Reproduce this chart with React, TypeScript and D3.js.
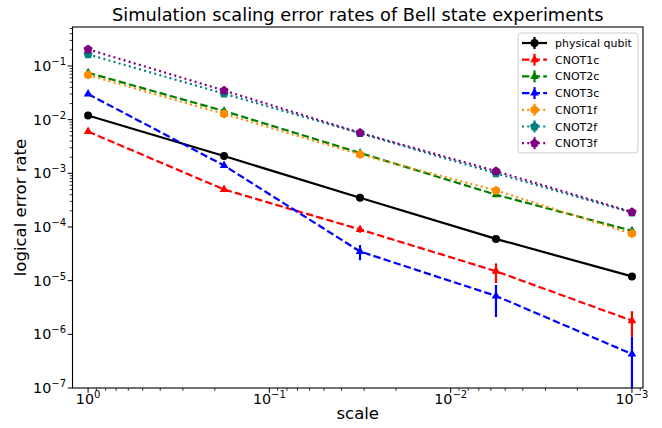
import React from "react";
import * as d3 from "d3";

const scales = [1, 0.1778, 0.03162, 0.005623, 0.001];
const seriesNames = ["physical qubit", "CNOT1c", "CNOT2c", "CNOT3c", "CNOT1f", "CNOT2f", "CNOT3f"];
const physical = [1.2e-2, 2.1e-3, 3.5e-4, 6.0e-5, 1.2e-5];
const physicalErr = [0, 0, 0, 0, 0];
const cnot1c = [6.0e-3, 5.0e-4, 9.0e-5, 1.5e-5, 1.8e-6];
const cnot1cErr = [0, 0, 1.2e-5, 6e-6, 9e-7];
const cnot2c = [7.5e-2, 1.45e-2, 2.4e-3, 4.0e-4, 8.5e-5];
const cnot2cErr = [0, 0, 0, 0, 0];
const cnot3c = [3.0e-2, 1.4e-3, 3.5e-5, 5.2e-6, 4.3e-7];
const cnot3cErr = [0, 1e-4, 1.1e-5, 3.1e-6, 4.7e-7];
const cnot1f = [6.8e-2, 1.28e-2, 2.25e-3, 4.8e-4, 7.5e-5];
const cnot1fErr = [0, 0, 0, 0, 0];
const cnot2f = [1.65e-1, 3.05e-2, 5.6e-3, 1.0e-3, 1.85e-4];
const cnot2fErr = [0, 0, 0, 0, 0];
const cnot3f = [2.05e-1, 3.5e-2, 5.7e-3, 1.1e-3, 1.9e-4];
const cnot3fErr = [0, 0, 0, 0, 0];
const xTickExps = [0, -1, -2, -3];
const yTickExps = [-1, -2, -3, -4, -5, -6, -7];

const colors = ["#000000", "#ff0000", "#008000", "#0000ff", "#ff8c00", "#008080", "#800080"];
const markers = ["circle", "triangle", "triangle", "triangle", "hexagon", "pentagon", "pentagon"];
const styles = ["solid", "dashed", "dashed", "dashed", "dotted", "dotted", "dotted"];
const values = [physical, cnot1c, cnot2c, cnot3c, cnot1f, cnot2f, cnot3f];
const errs = [physicalErr, cnot1cErr, cnot2cErr, cnot3cErr, cnot1fErr, cnot2fErr, cnot3fErr];

const W = 662, H = 428;
const L = 72.5, R = 643, T = 27, B = 388;
const FONT = "DejaVu Sans, sans-serif";

function polyPath(n: number, r: number, rot: number) {
  const pts: string[] = [];
  for (let i = 0; i < n; i++) {
    const a = rot + (i * 2 * Math.PI) / n;
    pts.push(`${(r * Math.cos(a)).toFixed(2)},${(r * Math.sin(a)).toFixed(2)}`);
  }
  return "M" + pts.join("L") + "Z";
}

function Marker({ kind, x, y, color }: { kind: string; x: number; y: number; color: string }) {
  if (kind === "circle") return <circle cx={x} cy={y} r={4} fill={color} />;
  let d = "";
  if (kind === "triangle") d = polyPath(3, 5, -Math.PI / 2);
  if (kind === "hexagon") d = polyPath(6, 4.6, -Math.PI / 2);
  if (kind === "pentagon") d = polyPath(5, 4.8, -Math.PI / 2);
  return <path d={d} transform={`translate(${x},${y})`} fill={color} />;
}

function dashFor(style: string) {
  if (style === "dashed") return "7.4,3.2";
  if (style === "dotted") return "2,3.3";
  return undefined;
}

function Pow({ x, y, exp, anchor }: { x: number; y: number; exp: number; anchor: string }) {
  const s = exp < 0 ? "\u2212" + Math.abs(exp) : String(exp);
  return (
    <text x={x} y={y} textAnchor={anchor} fontFamily={FONT} fontSize={14.3} fill="#000">
      10<tspan dy={-6} fontSize={10}>{s}</tspan>
    </text>
  );
}

export default function App() {
  const x = d3.scaleLog().domain([Math.pow(10, 0.086), Math.pow(10, -3.061)]).range([L, R]);
  const y = d3.scaleLog().domain([1e-7, Math.pow(10, -0.273)]).range([B, T]);

  const xMinor: number[] = [];
  const yMinor: number[] = [];
  for (let e = -4; e <= 1; e++) {
    for (let m = 2; m <= 9; m++) {
      const v = m * Math.pow(10, e);
      const px = x(v);
      if (px >= L && px <= R) xMinor.push(v);
      const py = y(v);
      if (py >= T && py <= B) yMinor.push(v);
    }
  }

  const line = d3
    .line<[number, number]>()
    .x((d) => x(d[0]))
    .y((d) => y(d[1]));

  const legX = 518, legY = 33, legW = 120, legRow = 16.7;

  return (
    <svg width={W} height={H} style={{ display: "block", position: "absolute", left: 0, top: 0 }}>
      <rect x={0} y={0} width={W} height={H} fill="#fff" />
      <defs>
        <clipPath id="plotclip">
          <rect x={L} y={T} width={R - L} height={B - T} />
        </clipPath>
      </defs>
      <g clipPath="url(#plotclip)">
        {values.map((vals, si) => {
          const pts = scales.map((s, i) => [s, vals[i]] as [number, number]);
          return (
            <g key={si}>
              {scales.map((s, i) => {
                const e = errs[si][i];
                if (!e) return null;
                const lo = vals[i] - e;
                const yLo = lo > 0 ? y(lo) : B + 20;
                return (
                  <line key={i} x1={x(s)} x2={x(s)} y1={y(vals[i] + e)} y2={yLo} stroke={colors[si]} strokeWidth={2.2} />
                );
              })}
              <path d={line(pts) || ""} fill="none" stroke={colors[si]} strokeWidth={2.2} strokeDasharray={dashFor(styles[si])} />
              {scales.map((s, i) => (
                <Marker key={i} kind={markers[si]} x={x(s)} y={y(vals[i])} color={colors[si]} />
              ))}
            </g>
          );
        })}
      </g>
      {/* ticks */}
      {xTickExps.map((e) => {
        const px = x(Math.pow(10, e));
        return (
          <g key={"xt" + e}>
            <line x1={px} x2={px} y1={B} y2={B + 4.8} stroke="#000" strokeWidth={1} />
            <Pow x={px} y={404} exp={e} anchor="middle" />
          </g>
        );
      })}
      {xMinor.map((v, i) => (
        <line key={"xm" + i} x1={x(v)} x2={x(v)} y1={B} y2={B + 2.8} stroke="#000" strokeWidth={0.8} />
      ))}
      {yTickExps.map((e) => {
        const py = y(Math.pow(10, e));
        return (
          <g key={"yt" + e}>
            <line x1={L - 4.8} x2={L} y1={py} y2={py} stroke="#000" strokeWidth={1} />
            <Pow x={66} y={py + 5} exp={e} anchor="end" />
          </g>
        );
      })}
      {yMinor.map((v, i) => (
        <line key={"ym" + i} x1={L - 2.8} x2={L} y1={y(v)} y2={y(v)} stroke="#000" strokeWidth={0.8} />
      ))}
      <rect x={L} y={T} width={R - L} height={B - T} fill="none" stroke="#000" strokeWidth={1.1} />
      {/* labels */}
      <text x={(L + R) / 2} y={21} textAnchor="middle" fontFamily={FONT} fontSize={17.8} fill="#000">
        Simulation scaling error rates of Bell state experiments
      </text>
      <text x={(L + R) / 2} y={419} textAnchor="middle" fontFamily={FONT} fontSize={16.5} fill="#000">
        scale
      </text>
      <text transform={`translate(26,${(T + B) / 2}) rotate(-90)`} textAnchor="middle" fontFamily={FONT} fontSize={16.5} fill="#000">
        logical error rate
      </text>
      {/* legend */}
      <rect x={legX} y={legY} width={legW} height={legRow * 7 + 3} rx={3} fill="#fff" fillOpacity={0.8} stroke="#cccccc" strokeWidth={1} />
      {seriesNames.map((name, i) => {
        const cy = legY + 10 + i * legRow;
        return (
          <g key={"lg" + i}>
            <line x1={522} x2={547} y1={cy} y2={cy} stroke={colors[i]} strokeWidth={2.2} strokeDasharray={dashFor(styles[i])} />
            <line x1={534.5} x2={534.5} y1={cy - 6} y2={cy + 6} stroke={colors[i]} strokeWidth={2.2} />
            <Marker kind={markers[i]} x={534.5} y={cy} color={colors[i]} />
            <text x={555} y={cy + 4} fontFamily={FONT} fontSize={11} fill="#000">
              {name}
            </text>
          </g>
        );
      })}
    </svg>
  );
}
